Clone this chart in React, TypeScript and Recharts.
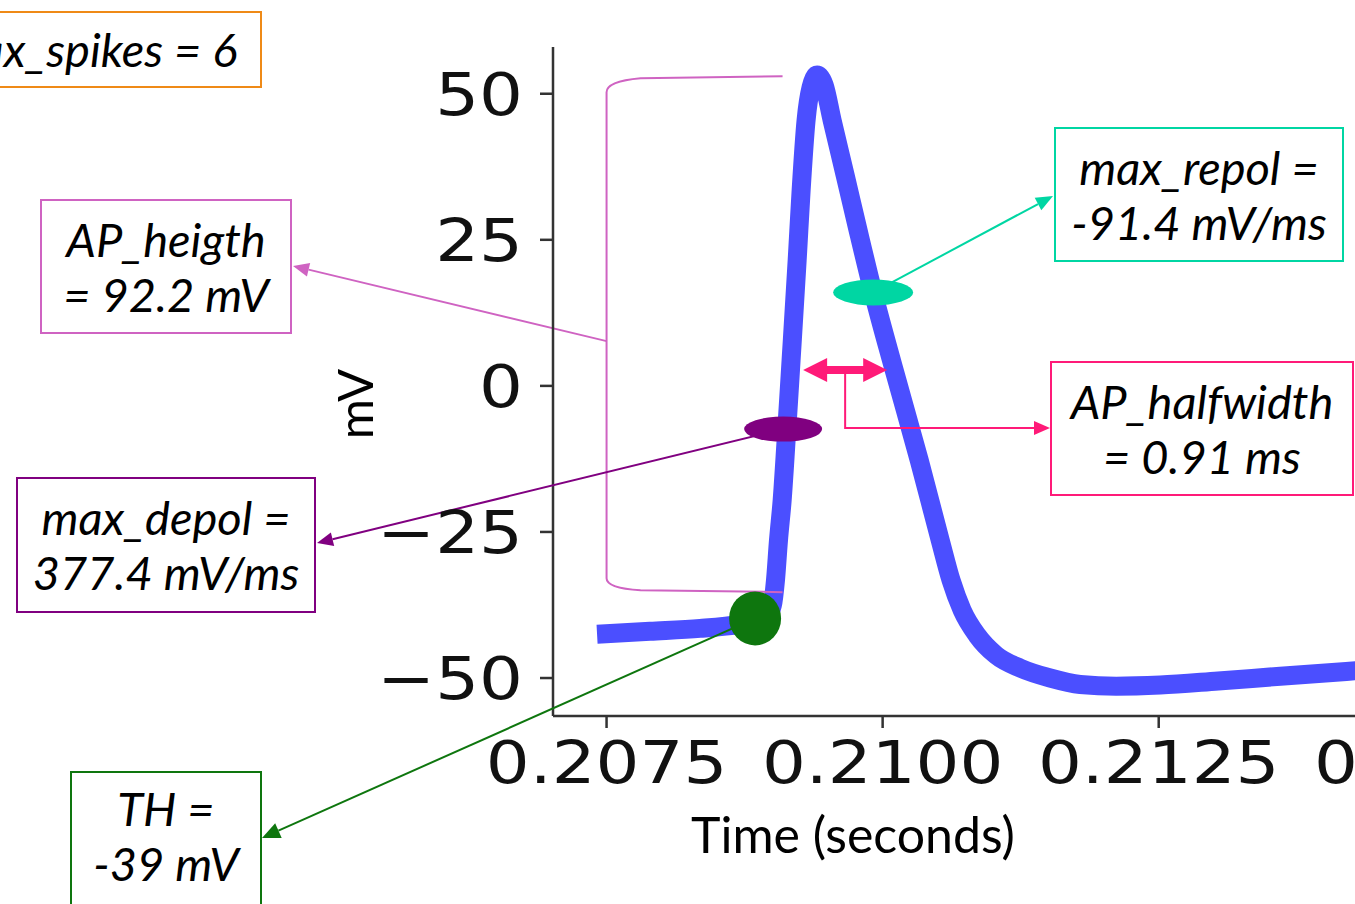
import React from "react";
import { LineChart, Line, XAxis, YAxis, ReferenceDot, ReferenceLine } from "recharts";

// membrane potential trace (seconds, mV)
const time = [
  0.207414, 0.207894, 0.208347, 0.208709, 0.208936, 0.209002, 0.20903, 0.209057, 0.20909, 0.209126,
  0.209171, 0.209226, 0.209262, 0.209307, 0.209352, 0.209407, 0.20947, 0.209542, 0.20966, 0.209778,
  0.209914, 0.210104, 0.210331, 0.210521, 0.21062, 0.21072, 0.210856, 0.211028, 0.211246, 0.211517,
  0.211789, 0.212115, 0.212514, 0.213039, 0.213601, 0.214325,
];
const voltage = [
  -42.5, -42.0, -41.5, -40.8, -40.0, -37.5, -33.2, -26.4, -19.6, -9.3,
  4.4, 21.5, 33.5, 45.5, 51.1, 53.2, 51.5, 45.5, 36.1, 26.6,
  16.0, 2.7, -12.7, -26.4, -33.3, -38.4, -42.7, -46.1, -48.3, -50.0,
  -51.1, -51.4, -51.2, -50.5, -49.7, -48.7,
];
const xTicks = [0.2075, 0.21, 0.2125, 0.215];
const yTicks = [-50, -25, 0, 25, 50];

// feature points
const thPoint = { t: 0.208845, v: -39.8 };
const depolPoint = { t: 0.209099, v: -7.4 };
const repolPoint = { t: 0.209914, v: 16.0 };
const halfwidth = { start: 0.20928, end: 0.210041, level: 2.7 };
const bracket = { t: 0.2075, top: 53.0, bottom: -35.3 };

const trace = time.map((t, i) => ({ t, v: voltage[i] }));

const TRACE = "#4b4fff";
const ORANGE = "#ef8a17";
const ORCHID = "#cf63c2";
const PURPLE = "#800080";
const GREEN = "#0e760e";
const TEAL = "#00d6a3";
const PINK = "#ff1a78";

function arrow(x1: number, y1: number, x2: number, y2: number, color: string, w = 2, len = 16, half = 7) {
  const d = Math.hypot(x2 - x1, y2 - y1);
  const ux = (x2 - x1) / d;
  const uy = (y2 - y1) / d;
  const bx = x2 - ux * len;
  const by = y2 - uy * len;
  return (
    <g>
      <line x1={x1} y1={y1} x2={bx} y2={by} stroke={color} strokeWidth={w} />
      <polygon
        points={`${x2},${y2} ${bx - uy * half},${by + ux * half} ${bx + uy * half},${by - ux * half}`}
        fill={color}
      />
    </g>
  );
}

const XTick = (props: any) => {
  const { x, y, payload } = props;
  return (
    <text
      x={0}
      y={0}
      transform={`translate(${x},${y + 55}) scale(1.17,1)`}
      textAnchor="middle"
      fontFamily="DejaVu Sans"
      fontSize={59}
      fill="#111"
    >
      {Number(payload.value).toFixed(4)}
    </text>
  );
};

const YTick = (props: any) => {
  const { x, y, payload } = props;
  const v = Number(payload.value);
  const label = v < 0 ? `\u2212${Math.abs(v)}` : `${v}`;
  return (
    <text
      x={0}
      y={0}
      transform={`translate(${x + 1},${y + 21}) scale(1.17,1)`}
      textAnchor="end"
      fontFamily="DejaVu Sans"
      fontSize={59}
      fill="#111"
    >
      {label}
    </text>
  );
};

const boxBase: React.CSSProperties = {
  position: "absolute",
  boxSizing: "border-box",
  display: "flex",
  flexDirection: "column",
  alignItems: "center",
  justifyContent: "center",
  fontFamily: "Lato",
  fontStyle: "italic",
  fontSize: 47,
  lineHeight: "55px",
  color: "#000",
  whiteSpace: "nowrap",
};

function Box({ left, top, width, height, color, lines, start }: any) {
  return (
    <div
      style={{
        ...boxBase,
        left,
        top,
        width,
        height,
        border: `2px solid ${color}`,
        justifyContent: start ? "flex-start" : "center",
        paddingTop: start ? 8 : 0,
      }}
    >
      {lines.map((l: string) => (
        <div key={l}>{l}</div>
      ))}
    </div>
  );
}

export default function App() {
  return (
    <div
      style={{ position: "absolute", left: 0, top: 0, width: 1355, height: 904, overflow: "hidden", background: "#fff" }}
    >
      <LineChart width={1500} height={904} data={trace} margin={{ top: 47, right: 10, bottom: 0, left: 0 }}>
        <XAxis
          type="number"
          dataKey="t"
          domain={[0.207015, 0.2155]}
          ticks={xTicks}
          interval={0}
          allowDataOverflow
          height={188}
          tickSize={12}
          tickMargin={0}
          tick={<XTick />}
          axisLine={{ stroke: "#333", strokeWidth: 2.5 }}
          tickLine={{ stroke: "#333", strokeWidth: 2.5 }}
        />
        <YAxis
          type="number"
          dataKey="v"
          domain={[-56.5, 58]}
          ticks={yTicks}
          interval={0}
          allowDataOverflow
          width={553}
          tickSize={13}
          tickMargin={18}
          tick={<YTick />}
          axisLine={{ stroke: "#333", strokeWidth: 2.5 }}
          tickLine={{ stroke: "#333", strokeWidth: 2.5 }}
        />
        <Line
          type="monotone"
          dataKey="v"
          stroke={TRACE}
          strokeWidth={19}
          dot={false}
          activeDot={false}
          isAnimationActive={false}
        />
        {/* AP height bracket */}
        <ReferenceLine
          segment={[
            { x: bracket.t, y: bracket.top },
            { x: bracket.t, y: bracket.bottom },
          ]}
          shape={(p: any) => {
            const { x1, y1, y2 } = p;
            const arm = 176;
            return (
              <g>
                <path
                  d={`M ${x1 + arm} ${y1} L ${x1 + 34} ${y1 + 2} Q ${x1} ${y1 + 5} ${x1} ${y1 + 16} L ${x1} ${y2 - 14} Q ${x1} ${y2 - 4} ${x1 + 34} ${y2 - 2} L ${x1 + arm} ${y2}`}
                  fill="none"
                  stroke={ORCHID}
                  strokeWidth={2}
                />
                {arrow(x1, (y1 + y2) / 2 + 7, 293, 266, ORCHID, 1.8, 16, 7)}
              </g>
            );
          }}
        />
        {/* AP halfwidth double arrow */}
        <ReferenceLine
          segment={[
            { x: halfwidth.start, y: halfwidth.level },
            { x: halfwidth.end, y: halfwidth.level },
          ]}
          shape={(p: any) => {
            const { x1, y1, x2 } = p;
            const mx = (x1 + x2) / 2;
            return (
              <g>
                <path
                  d={`M ${mx} ${y1} L ${mx} ${y1 + 58} L ${1034} ${y1 + 58}`}
                  fill="none"
                  stroke={PINK}
                  strokeWidth={2}
                />
                <polygon
                  points={`${1050},${y1 + 58} ${1034},${y1 + 51} ${1034},${y1 + 65}`}
                  fill={PINK}
                />
                <line x1={x1 + 20} y1={y1} x2={x2 - 20} y2={y1} stroke={PINK} strokeWidth={8} />
                <polygon points={`${x1},${y1} ${x1 + 24},${y1 - 12} ${x1 + 24},${y1 + 12}`} fill={PINK} />
                <polygon points={`${x2},${y1} ${x2 - 24},${y1 - 12} ${x2 - 24},${y1 + 12}`} fill={PINK} />
              </g>
            );
          }}
        />
        <ReferenceDot
          x={repolPoint.t}
          y={repolPoint.v}
          r={1}
          shape={(p: any) => (
            <g>
              {arrow(p.cx, p.cy, 1053, 196, TEAL, 2, 17, 7)}
              <ellipse cx={p.cx} cy={p.cy} rx={40} ry={13} fill={TEAL} />
            </g>
          )}
        />
        <ReferenceDot
          x={depolPoint.t}
          y={depolPoint.v}
          r={1}
          shape={(p: any) => (
            <g>
              {arrow(p.cx, p.cy, 317, 543, PURPLE, 2, 16, 7)}
              <ellipse cx={p.cx} cy={p.cy} rx={39} ry={12.5} fill={PURPLE} />
            </g>
          )}
        />
        <ReferenceDot
          x={thPoint.t}
          y={thPoint.v}
          r={1}
          shape={(p: any) => (
            <g>
              {arrow(p.cx, p.cy, 262, 838, GREEN, 2, 18, 8)}
              <ellipse cx={p.cx} cy={p.cy} rx={26} ry={27} fill={GREEN} />
            </g>
          )}
        />
      </LineChart>

      <svg width={1355} height={904} style={{ position: "absolute", left: 0, top: 0, pointerEvents: "none" }}>
        <text x={853} y={853} textAnchor="middle" fontFamily="Lato" fontSize={50} fill="#000">
          Time (seconds)
        </text>
        <text x={0} y={0} transform="translate(373,404) rotate(-90)" textAnchor="middle" fontFamily="Lato" fontSize={49} fill="#000">
          mV
        </text>
      </svg>

      <Box left={-82} top={11} width={344} height={77} color={ORANGE} lines={["max_spikes = 6"]} />
      <Box left={40} top={199} width={252} height={135} color={ORCHID} lines={["AP_heigth", "= 92.2 mV"]} />
      <Box left={16} top={477} width={300} height={136} color={PURPLE} lines={["max_depol =", "377.4 mV/ms"]} />
      <Box left={70} top={771} width={192} height={170} color={GREEN} lines={["TH =", "-39 mV"]} start />
      <Box left={1054} top={127} width={290} height={135} color={TEAL} lines={["max_repol =", "-91.4 mV/ms"]} />
      <Box left={1050} top={361} width={304} height={135} color={PINK} lines={["AP_halfwidth", "= 0.91 ms"]} />
    </div>
  );
}
